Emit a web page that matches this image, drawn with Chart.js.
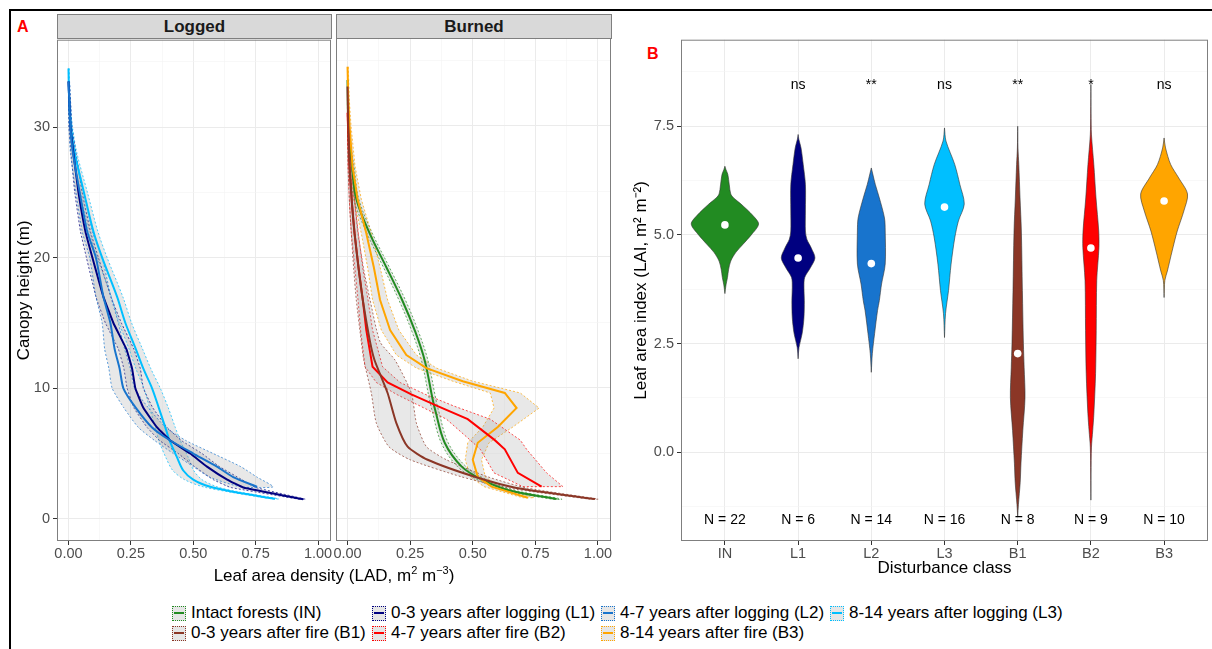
<!DOCTYPE html>
<html>
<head>
<meta charset="utf-8">
<script src="https://cdn.jsdelivr.net/npm/chart.js@4.4.1/dist/chart.umd.min.js"></script>
<style>
  body { margin: 0; width: 1212px; height: 649px; background: #fff; position: relative; overflow: hidden;
         font-family: "Liberation Sans", Arial, sans-serif; }
  .frame { position: absolute; left: 9px; top: 9px; width: 1210px; height: 650px;
           border-top: 2px solid #000; border-left: 2px solid #000; }
  canvas { position: absolute; }
  .strip { position: absolute; top: 14px; height: 25px; box-sizing: border-box; background: #D9D9D9;
           border: 1px solid #7F7F7F; font-weight: bold; font-size: 17px; color: #1A1A1A;
           text-align: center; line-height: 23px; }
  .tag { position: absolute; color: #FF0000; font-weight: bold; font-size: 16px; }
  .xtitle { position: absolute; left: 134px; width: 400px; top: 566px; text-align: center; font-size: 17px; color: #000; }
  .xtitle sup { font-size: 11px; line-height: 0; }
  #legend { position: absolute; left: 172px; top: 603px; display: grid;
            grid-template-columns: 200px 229px 229px auto; grid-auto-rows: 20px; align-items: center; }
  .item { display: flex; align-items: center; font-size: 17px; color: #000; white-space: nowrap; }
  .key { position: relative; width: 14px; height: 15px; box-sizing: border-box; background: #E6E6E6;
         border: 1px dotted; margin-right: 5px; }
  .key div { position: absolute; left: 1px; right: 1px; top: 5px; height: 2px; }
</style>
</head>
<body>
<div class="frame"></div>
<div class="tag" style="left:17px; top:18px;">A</div>
<div class="tag" style="left:647px; top:45px;">B</div>
<div class="strip" style="left:57px; width:275px;">Logged</div>
<div class="strip" style="left:336px; width:276px;">Burned</div>
<canvas id="logged" width="330" height="543" style="left:10px; top:28px;"></canvas>
<canvas id="burned" width="295" height="543" style="left:326px; top:28px;"></canvas>
<canvas id="lai" width="582" height="555" style="left:630px; top:28px;"></canvas>
<div class="xtitle">Leaf area density (LAD, m<sup>2</sup> m<sup>&minus;3</sup>)</div>
<div id="legend"></div>
<script>
// ---- panel A: LAD profiles (x = LAD, y = height in m) ----
const l1Height = [33.5, 30, 28, 25, 22, 20, 17, 15, 13, 11.5, 10, 8.5, 7, 6, 5, 4, 3, 2.4, 1.5];
const l1Mean = [0.000, 0.008, 0.020, 0.040, 0.068, 0.096, 0.140, 0.180, 0.232, 0.255, 0.268, 0.300, 0.355, 0.408, 0.488, 0.555, 0.636, 0.700, 0.940];
const l1Low  = [0.000, 0.002, 0.010, 0.025, 0.048, 0.072, 0.110, 0.148, 0.200, 0.222, 0.235, 0.262, 0.315, 0.365, 0.440, 0.505, 0.580, 0.650, 0.925];
const l1High = [0.004, 0.014, 0.030, 0.055, 0.088, 0.120, 0.170, 0.212, 0.262, 0.288, 0.300, 0.338, 0.395, 0.452, 0.535, 0.605, 0.695, 0.750, 0.950];

const l2Height = [33.5, 30, 28, 25, 22, 20, 17, 15, 13, 11.5, 10, 8.5, 7, 6, 5, 4, 3.2, 2.45];
const l2Mean = [0.000, 0.008, 0.018, 0.045, 0.075, 0.110, 0.140, 0.168, 0.185, 0.205, 0.220, 0.270, 0.335, 0.408, 0.500, 0.595, 0.660, 0.756];
const l2Low  = [0.000, 0.002, 0.008, 0.030, 0.055, 0.085, 0.110, 0.135, 0.145, 0.162, 0.175, 0.222, 0.280, 0.345, 0.420, 0.500, 0.565, 0.690];
const l2High = [0.004, 0.014, 0.028, 0.062, 0.096, 0.135, 0.170, 0.200, 0.225, 0.248, 0.265, 0.320, 0.390, 0.470, 0.580, 0.690, 0.755, 0.820];

const l3Height = [34.5, 32, 30, 28, 25, 22, 20, 17, 15, 13, 11.5, 10, 8.5, 7, 6, 4.7, 3.7, 3.0, 2.45, 2.07, 1.53];
const l3Mean = [0.000, 0.003, 0.010, 0.025, 0.062, 0.100, 0.135, 0.195, 0.228, 0.270, 0.300, 0.335, 0.362, 0.388, 0.405, 0.435, 0.460, 0.500, 0.568, 0.660, 0.828];
const l3Low  = [0.000, 0.000, 0.005, 0.016, 0.048, 0.082, 0.115, 0.172, 0.203, 0.243, 0.270, 0.302, 0.325, 0.348, 0.362, 0.390, 0.418, 0.465, 0.540, 0.640, 0.815];
const l3High = [0.003, 0.007, 0.016, 0.034, 0.076, 0.118, 0.155, 0.218, 0.253, 0.297, 0.330, 0.368, 0.400, 0.428, 0.448, 0.480, 0.502, 0.535, 0.596, 0.680, 0.842];

const inHeight = [33.5, 30, 28.5, 26.9, 24.4, 21.8, 19.2, 16.7, 14.3, 12.1, 9.1, 8.3, 5.8, 4.0, 3.0, 2.2, 1.5];
const inMean = [0.000, 0.003, 0.008, 0.018, 0.035, 0.088, 0.155, 0.218, 0.270, 0.308, 0.340, 0.350, 0.388, 0.455, 0.535, 0.640, 0.835];
const inLow  = [0.000, 0.000, 0.003, 0.010, 0.025, 0.077, 0.143, 0.205, 0.257, 0.295, 0.327, 0.337, 0.374, 0.438, 0.517, 0.620, 0.815];
const inHigh = [0.003, 0.006, 0.013, 0.026, 0.045, 0.099, 0.167, 0.231, 0.283, 0.321, 0.353, 0.363, 0.402, 0.472, 0.553, 0.660, 0.855];

const b1Height = [33, 30, 27, 24, 21.8, 19, 16.7, 13.5, 12.1, 9.6, 7.3, 5.5, 4.5, 3.2, 2.35, 1.5];
const b1Mean = [0.000, 0.003, 0.008, 0.018, 0.028, 0.045, 0.061, 0.090, 0.108, 0.160, 0.195, 0.240, 0.320, 0.508, 0.675, 0.988];
const b1Low  = [0.000, 0.000, 0.002, 0.008, 0.015, 0.025, 0.035, 0.055, 0.065, 0.095, 0.115, 0.165, 0.250, 0.455, 0.640, 0.965];
const b1High = [0.003, 0.008, 0.015, 0.030, 0.042, 0.065, 0.090, 0.130, 0.190, 0.255, 0.275, 0.315, 0.395, 0.560, 0.715, 1.000];

const b2Height = [31, 29, 26.9, 24, 21.8, 19, 16.7, 14.4, 11.6, 10.4, 9.5, 8.6, 7.6, 6.0, 5.3, 3.5, 2.45];
const b2Mean = [0.000, 0.004, 0.008, 0.018, 0.028, 0.045, 0.061, 0.075, 0.100, 0.160, 0.255, 0.360, 0.480, 0.588, 0.628, 0.680, 0.775];
const b2Low  = [0.000, 0.000, 0.002, 0.008, 0.015, 0.030, 0.042, 0.052, 0.070, 0.115, 0.195, 0.290, 0.395, 0.490, 0.530, 0.585, 0.700];
const b2High = [0.003, 0.010, 0.016, 0.030, 0.043, 0.062, 0.082, 0.100, 0.140, 0.210, 0.310, 0.425, 0.570, 0.690, 0.715, 0.795, 0.860];

const b3Height = [34.5, 32, 30, 26.9, 24.4, 21.8, 19.2, 16.7, 14.4, 12.5, 11.5, 10.5, 9.6, 8.45, 7.0, 5.8, 4.5, 3.2, 2.45, 1.6];
const b3Mean = [0.000, 0.003, 0.008, 0.020, 0.040, 0.075, 0.105, 0.130, 0.170, 0.235, 0.315, 0.460, 0.628, 0.675, 0.600, 0.520, 0.500, 0.520, 0.575, 0.720];
const b3Low  = [0.000, 0.000, 0.003, 0.010, 0.025, 0.055, 0.080, 0.100, 0.135, 0.195, 0.275, 0.420, 0.570, 0.585, 0.540, 0.480, 0.470, 0.490, 0.545, 0.700];
const b3High = [0.003, 0.007, 0.014, 0.030, 0.055, 0.095, 0.130, 0.160, 0.205, 0.275, 0.355, 0.500, 0.690, 0.765, 0.660, 0.565, 0.535, 0.550, 0.605, 0.745];

const ladTicks = [0, 0.125, 0.25, 0.375, 0.5, 0.625, 0.75, 0.875, 1];
const heightTicks = [0, 5, 10, 15, 20, 25, 30, 35];

// ---- panel B: LAI violins ----
const classes = ['IN', 'L1', 'L2', 'L3', 'B1', 'B2', 'B3'];
const sigLabels = ['', 'ns', '**', 'ns', '**', '*', 'ns'];
const sampleSizes = [22, 6, 14, 16, 8, 9, 10];
const laiMedian = [5.23, 4.47, 4.34, 5.64, 2.27, 4.70, 5.78];
// density outlines: LAI levels and half widths (in category units)
const inLai = [3.65, 3.85, 4.02, 4.2, 4.4, 4.6, 4.79, 5.0, 5.25, 5.45, 5.71, 5.85, 5.94, 6.15, 6.39, 6.5, 6.58];
const inWidth = [0, 0.015, 0.035, 0.05, 0.08, 0.15, 0.25, 0.36, 0.46, 0.38, 0.22, 0.12, 0.08, 0.06, 0.04, 0.015, 0];
const l1Lai = [2.15, 2.41, 2.73, 3.1, 3.49, 3.8, 4.02, 4.25, 4.47, 4.7, 4.9, 5.09, 5.55, 6.16, 6.62, 7.0, 7.2, 7.31];
const l1Width = [0, 0.012, 0.055, 0.08, 0.085, 0.08, 0.09, 0.17, 0.23, 0.18, 0.12, 0.1, 0.1, 0.1, 0.07, 0.04, 0.01, 0];
const l2Lai = [1.84, 2.27, 2.73, 3.26, 3.49, 3.87, 4.33, 5.09, 5.39, 5.85, 6.16, 6.4, 6.54];
const l2Width = [0, 0.014, 0.045, 0.085, 0.11, 0.14, 0.19, 0.19, 0.18, 0.11, 0.055, 0.02, 0];
const l3Lai = [2.64, 3.19, 3.72, 4.33, 4.93, 5.32, 5.71, 6.16, 6.62, 7.16, 7.46];
const l3Width = [0, 0.014, 0.055, 0.09, 0.14, 0.19, 0.27, 0.21, 0.14, 0.02, 0];
const b1Lai = [-1.49, -1.2, -0.7, -0.25, 0.5, 1.26, 1.95, 2.5, 3.72, 5.09, 5.85, 6.62, 7.0, 7.5];
const b1Width = [0, 0.01, 0.034, 0.045, 0.07, 0.1, 0.088, 0.078, 0.064, 0.05, 0.032, 0.015, 0.004, 0];
const b2Lai = [-1.1, -0.5, 0.12, 0.5, 0.89, 1.81, 2.8, 3.95, 4.71, 5.09, 5.85, 6.62, 7.3, 7.8, 8.46];
const b2Width = [0, 0.002, 0.008, 0.025, 0.041, 0.064, 0.073, 0.08, 0.11, 0.107, 0.07, 0.04, 0.008, 0.002, 0];
const b3Lai = [3.56, 3.95, 4.17, 4.63, 5.09, 5.55, 5.94, 6.31, 6.62, 7.0, 7.23];
const b3Width = [0, 0.01, 0.045, 0.11, 0.18, 0.27, 0.32, 0.2, 0.09, 0.02, 0];
const laiTicks = [-1.25, 0, 1.25, 2.5, 3.75, 5, 6.25, 7.5, 8.75];

const colors = {
  IN: '#228B22', L1: '#000080', L2: '#1874CD', L3: '#00BFFF',
  B1: '#8B3626', B2: '#FF0000', B3: '#FFA500'
};
const legendLabels = [
  ['IN', 'Intact forests (IN)'], ['L1', '0-3 years after logging (L1)'],
  ['L2', '4-7 years after logging (L2)'], ['L3', '8-14 years after logging (L3)'],
  ['B1', '0-3 years after fire (B1)'], ['B2', '4-7 years after fire (B2)'],
  ['B3', '8-14 years after fire (B3)']
];

const FONT = '"Liberation Sans", Arial, sans-serif';

function profilePoints(h, m) {
  return h.map((y, i) => ({ x: m[i], y: y }));
}
function ribbonPoints(h, lo, hi) {
  const pts = h.map((y, i) => ({ x: hi[i], y: y }));
  for (let i = h.length - 1; i >= 0; i--) pts.push({ x: lo[i], y: h[i] });
  return pts;
}
function violinPoints(pos, lai, w) {
  const pts = lai.map((y, i) => ({ x: pos + w[i], y: y }));
  for (let i = lai.length - 1; i >= 0; i--) pts.push({ x: pos - w[i], y: lai[i] });
  return pts;
}

const panelBorder = {
  id: 'panelBorder',
  afterDraw(chart) {
    const a = chart.chartArea, ctx = chart.ctx;
    ctx.save();
    ctx.strokeStyle = '#7F7F7F';
    ctx.lineWidth = 1;
    ctx.strokeRect(a.left + 0.5, a.top + 0.5, a.right - a.left - 1, a.bottom - a.top - 1);
    ctx.restore();
  }
};

function gridStyle(isMajor, ticks) {
  return {
    color: c => (c.tick && isMajor(c.tick.value)) ? '#EBEBEB' : '#F3F3F3',
    lineWidth: c => (c.tick && isMajor(c.tick.value)) ? 1 : 0.6,
    drawTicks: ticks,
    tickLength: 4,
    tickWidth: 1,
    tickColor: c => (c.tick && isMajor(c.tick.value)) ? '#333333' : 'rgba(0,0,0,0)'
  };
}

const majorLad = v => Math.abs(v * 4 - Math.round(v * 4)) < 1e-6;
const majorHeight = v => v % 10 === 0;

function profileChart(id, series, showY, pad) {
  const datasets = [];
  series.forEach(s => {
    datasets.push({
      data: ribbonPoints(s.h, s.lo, s.hi), fill: 'shape',
      backgroundColor: 'rgba(140,140,140,0.2)', borderColor: s.color,
      borderWidth: 0.7, borderDash: [2, 2], pointRadius: 0, tension: s.smooth, order: 5
    });
  });
  series.forEach(s => {
    datasets.push({
      data: profilePoints(s.h, s.m), fill: false,
      borderColor: s.color, borderWidth: 2, pointRadius: 0, tension: s.smooth, order: 1
    });
  });
  new Chart(document.getElementById(id), {
    type: 'line',
    data: { datasets: datasets },
    options: {
      responsive: false, animation: false, devicePixelRatio: 1,
      layout: { padding: pad },
      plugins: { legend: { display: false }, tooltip: { enabled: false } },
      scales: {
        x: {
          type: 'linear', min: -0.046, max: 1.052,
          afterBuildTicks: s => { s.ticks = ladTicks.map(v => ({ value: v })); },
          afterFit: s => { s.height = 30; },
          grid: gridStyle(majorLad, true),
          border: { display: false },
          ticks: {
            autoSkip: false, maxRotation: 0, padding: 0, color: '#4D4D4D',
            font: { size: 14.5, family: FONT },
            callback: v => majorLad(v) ? v.toFixed(2) : ''
          }
        },
        y: {
          type: 'linear', min: -1.7, max: 36.7,
          afterBuildTicks: s => { s.ticks = heightTicks.map(v => ({ value: v })); },
          afterFit: s => { s.width = showY ? 47 : 0; },
          grid: gridStyle(majorHeight, showY),
          border: { display: false },
          title: {
            display: showY, text: 'Canopy height (m)', color: '#000',
            font: { size: 17, family: FONT }, padding: { top: 4, bottom: 4 }
          },
          ticks: {
            display: showY, autoSkip: false, padding: 3, color: '#4D4D4D',
            font: { size: 14.5, family: FONT },
            callback: v => majorHeight(v) ? String(v) : ''
          }
        }
      }
    },
    plugins: [panelBorder]
  });
}

profileChart('logged', [
  { color: colors.L2, h: l2Height, m: l2Mean, lo: l2Low, hi: l2High, smooth: 0.2 },
  { color: colors.L1, h: l1Height, m: l1Mean, lo: l1Low, hi: l1High, smooth: 0.1 },
  { color: colors.L3, h: l3Height, m: l3Mean, lo: l3Low, hi: l3High, smooth: 0.3 }
], true, { left: 0, right: 9, top: 10, bottom: 0 });

profileChart('burned', [
  { color: colors.B1, h: b1Height, m: b1Mean, lo: b1Low, hi: b1High, smooth: 0.2 },
  { color: colors.B2, h: b2Height, m: b2Mean, lo: b2Low, hi: b2High, smooth: 0 },
  { color: colors.B3, h: b3Height, m: b3Mean, lo: b3Low, hi: b3High, smooth: 0 },
  { color: colors.IN, h: inHeight, m: inMean, lo: inLow, hi: inHigh, smooth: 0.35 }
], false, { left: 10, right: 10, top: 10, bottom: 0 });

// ---- violin panel ----
const violinText = {
  id: 'violinText',
  afterDatasetsDraw(chart) {
    const { ctx } = chart, x = chart.scales.x, y = chart.scales.y;
    ctx.save();
    ctx.fillStyle = '#000';
    ctx.font = '14px ' + FONT;
    ctx.textAlign = 'center';
    ctx.textBaseline = 'middle';
    classes.forEach((c, i) => {
      ctx.fillText(sigLabels[i], x.getPixelForValue(i), y.getPixelForValue(8.45));
      ctx.fillText('N = ' + sampleSizes[i], x.getPixelForValue(i), y.getPixelForValue(-1.55));
    });
    ctx.restore();
  }
};

const shapes = [[inLai, inWidth], [l1Lai, l1Width], [l2Lai, l2Width], [l3Lai, l3Width],
                [b1Lai, b1Width], [b2Lai, b2Width], [b3Lai, b3Width]];
const violinSets = shapes.map((s, i) => ({
  data: violinPoints(i, s[0], s[1]), fill: 'shape',
  backgroundColor: colors[classes[i]], borderColor: '#333333', borderWidth: 0.6,
  pointRadius: 0, tension: 0.3, order: 5
}));
violinSets.push({
  data: laiMedian.map((v, i) => ({ x: i, y: v })), showLine: false,
  pointRadius: 3.8, pointBackgroundColor: '#FFFFFF', pointBorderWidth: 0, order: 0
});

const majorLai = v => Math.abs(v / 2.5 - Math.round(v / 2.5)) < 1e-6;

new Chart(document.getElementById('lai'), {
  type: 'line',
  data: { datasets: violinSets },
  options: {
    responsive: false, animation: false, devicePixelRatio: 1,
    layout: { padding: { left: 0, right: 3, top: 10, bottom: 0 } },
    plugins: { legend: { display: false }, tooltip: { enabled: false } },
    scales: {
      x: {
        type: 'linear', min: -0.6, max: 6.6,
        afterBuildTicks: s => { s.ticks = classes.map((c, i) => ({ value: i })); },
        afterFit: s => { s.height = 42; },
        grid: gridStyle(() => true, true),
        border: { display: false },
        title: { display: true, text: 'Disturbance class', color: '#000', font: { size: 17, family: FONT } },
        ticks: {
          autoSkip: false, maxRotation: 0, padding: 0, color: '#4D4D4D',
          font: { size: 14.5, family: FONT },
          callback: v => classes[v] || ''
        }
      },
      y: {
        type: 'linear', min: -2.04, max: 9.49,
        afterBuildTicks: s => { s.ticks = laiTicks.map(v => ({ value: v })); },
        afterFit: s => { s.width = 51; },
        grid: gridStyle(majorLai, true),
        border: { display: false },
        title: {
          display: true, text: 'Leaf area index (LAI, m\u00B2 m\u207B\u00B2)', color: '#000',
          font: { size: 17, family: FONT }, padding: { top: 1, bottom: 1 }
        },
        ticks: {
          autoSkip: false, padding: 3, color: '#4D4D4D',
          font: { size: 14.5, family: FONT },
          callback: v => majorLai(v) ? v.toFixed(1) : ''
        }
      }
    }
  },
  plugins: [panelBorder, violinText]
});

// ---- shared legend ----
const legend = document.getElementById('legend');
legendLabels.forEach(([code, label]) => {
  const item = document.createElement('div');
  item.className = 'item';
  item.innerHTML = '<span class="key" style="border-color:' + colors[code] + '"><div style="background:' +
    colors[code] + '"></div></span>' + label;
  legend.appendChild(item);
});
</script>
</body>
</html>
